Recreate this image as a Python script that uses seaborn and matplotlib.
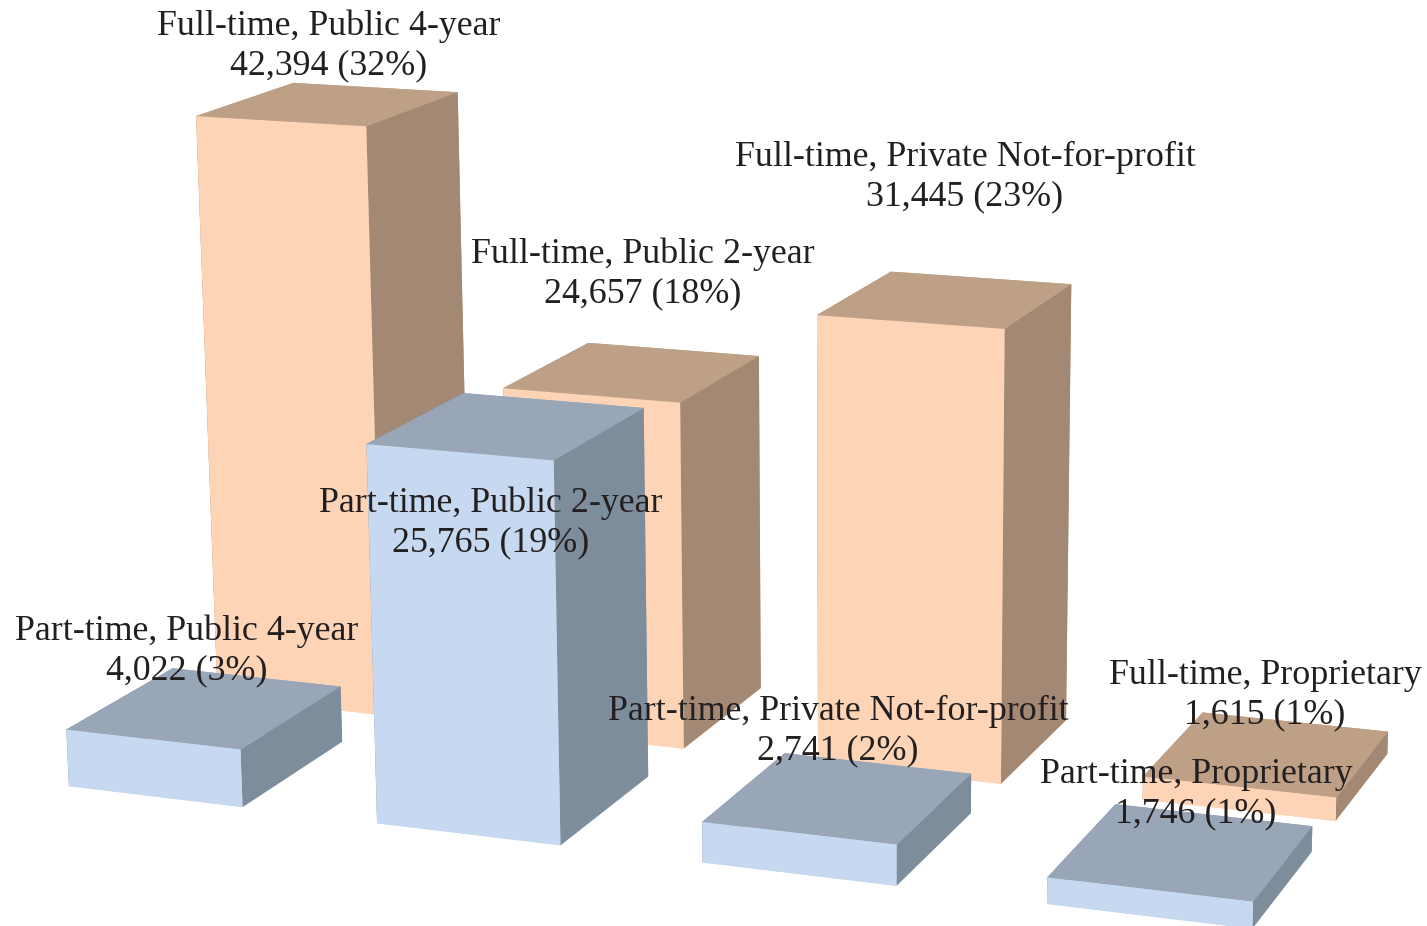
import matplotlib
matplotlib.use('Agg')
import matplotlib.pyplot as plt
import seaborn as sns

# Data
categories = ["Public 4-year", "Public 2-year", "Private Not-for-profit", "Proprietary"]
full_time = [42394, 24657, 31445, 1615]
part_time = [4022, 25765, 2741, 1746]
full_pct = [32, 18, 23, 1]
part_pct = [3, 19, 2, 1]

# bottom, top, front, back, left, right
FULL_COLORS = ["#FDD4B5", "#BEA086", "#FDD4B5", "#BEA086", "#A38873", "#A38873"]
PART_COLORS = ["#C6D9F0", "#98A6B8", "#C6D9F0", "#98A6B8", "#7E8D9B", "#7E8D9B"]

BAR_W = 0.57
BAR_D = 0.66
ROW_Y = {"part": 0.0, "full": 0.945}

# label centres in pixels
FULL_LABELS = [(329, 46), (643, 274), (965, 177), (1265, 695)]
PART_LABELS = [(187, 651), (491, 523), (838, 731), (1196, 794)]

sns.set_theme(style="white")
plt.rcParams['font.family'] = ['Liberation Serif', 'DejaVu Serif']

W, H = 1427, 926
fig = plt.figure(figsize=(W / 100, H / 100), dpi=100)
# square axes as wide as the figure, so nothing gets clipped; moved a bit
ax = fig.add_axes([3 / W, ((H - W) / 2 - 26) / H, 1, W / H], projection='3d')
ax.set_proj_type('persp', focal_length=0.575)
ax.view_init(elev=14.2, azim=-69, roll=0.4)

for row, values, colors in [("full", full_time, FULL_COLORS), ("part", part_time, PART_COLORS)]:
    for i, v in enumerate(values):
        ax.bar3d(i, ROW_Y[row], 0, BAR_W, BAR_D, v, color=colors, shade=False, linewidth=0)

ax.set_xlim(-0.2, 3.8)
ax.set_ylim(-0.3, 1.9)
ax.set_zlim(0, 42394)
ax.set_box_aspect((4.0, 2.2, 1.84), zoom=1.15)
ax.set_axis_off()


def label(pos, name, val, pct):
    fig.text(pos[0] / W, 1 - pos[1] / H, f"{name}\n{val:,} ({pct}%)", ha='center', va='center',
             fontsize=25.8, color='#231F20', linespacing=1.235)


for i, cat in enumerate(categories):
    label(FULL_LABELS[i], f"Full-time, {cat}", full_time[i], full_pct[i])
    label(PART_LABELS[i], f"Part-time, {cat}", part_time[i], part_pct[i])

fig.savefig("out.png", dpi=100)
